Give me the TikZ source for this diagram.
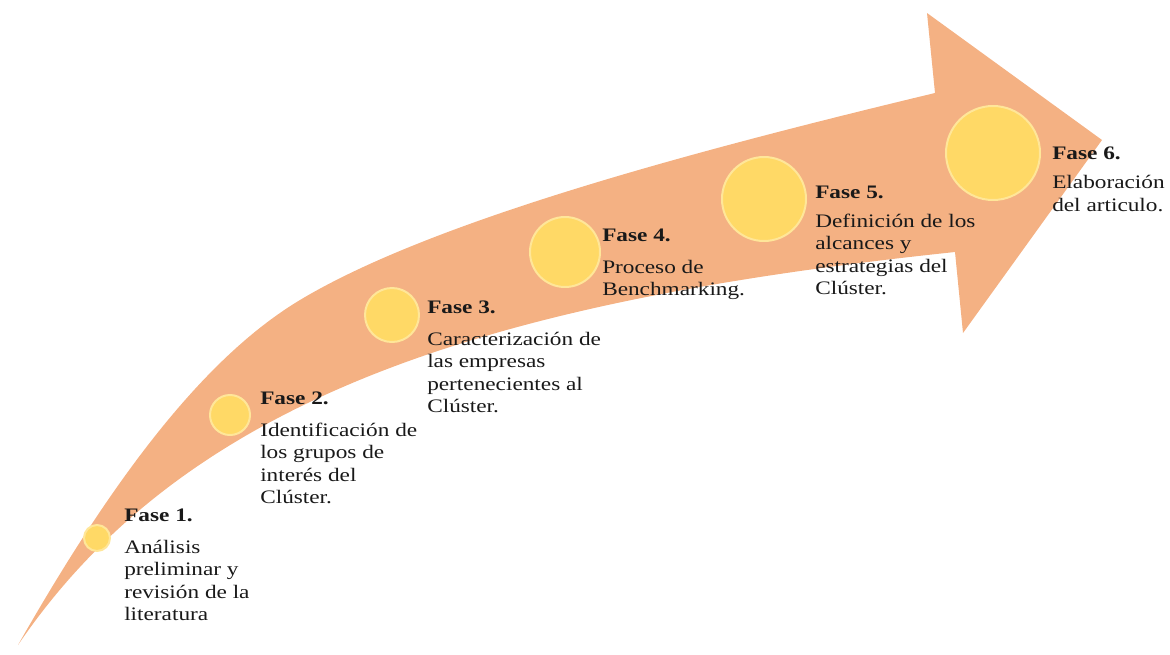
\documentclass[tikz,border=0pt]{standalone}
\usepackage{fontspec}
\setmainfont{Liberation Serif}[FakeStretch=1.22]
\usepackage{tikz}
\usetikzlibrary{positioning}

\definecolor{freccia}{HTML}{F4B183}
\definecolor{cerchio}{HTML}{FFD966}
\definecolor{bordo}{HTML}{FFE699}

\tikzset{
    fase/.style={anchor=north west, inner sep=0pt, align=left, text=black!90,
        font=\fontsize{14.3}{16.7}\selectfont},
    tappa/.style={circle, fill=cerchio, draw=bordo, line width=1.5pt, inner sep=0pt}
}

\begin{document}
\begin{tikzpicture}[x=0.75pt, y=-0.75pt]
    \useasboundingbox (0,0) rectangle (1170,654);
    % Freccia curva
    \fill[freccia] (18,645) .. controls (108,487) and (200,360) .. (300,300)
        .. controls (430,222) and (685,153) .. (935,93)
        -- (927,13) -- (1102,140) -- (963,333) -- (955,252)
        .. controls (500,300) and (190,392) .. (18,645) -- cycle;
    % Cerchi delle fasi
    \foreach \i/\x/\y/\d in {1/97/538/19.5, 2/230/415/30, 3/392/315/40.5,
                             4/565/252/52.5, 5/764/199/63, 6/993/153/70.5} {
        \node[tappa, minimum size=\d pt] (C\i) at (\x,\y) {};
    }
    % Testi delle fasi
    \node[fase] (T1) at (124,509) {\textbf{Fase 1.}\\[7pt]Análisis\\preliminar y\\revisión de la\\literatura};
    \node[fase] (T2) at (260,392) {\textbf{Fase 2.}\\[7pt]Identificación de\\los grupos de\\interés del\\Clúster.};
    \node[fase] (T3) at (427,301) {\textbf{Fase 3.}\\[7pt]Caracterización de\\las empresas\\pertenecientes al\\Clúster.};
    \node[fase] (T4) at (602,229) {\textbf{Fase 4.}\\[7pt]Proceso de\\Benchmarking.};
    \node[fase] (T5) at (815,186) {\textbf{Fase 5.}\\[5pt]Definición de los\\alcances y\\estrategias del\\Clúster.};
    \node[fase] (T6) at (1052,147) {\textbf{Fase 6.}\\[5pt]Elaboración\\del articulo.};
\end{tikzpicture}
\end{document}
